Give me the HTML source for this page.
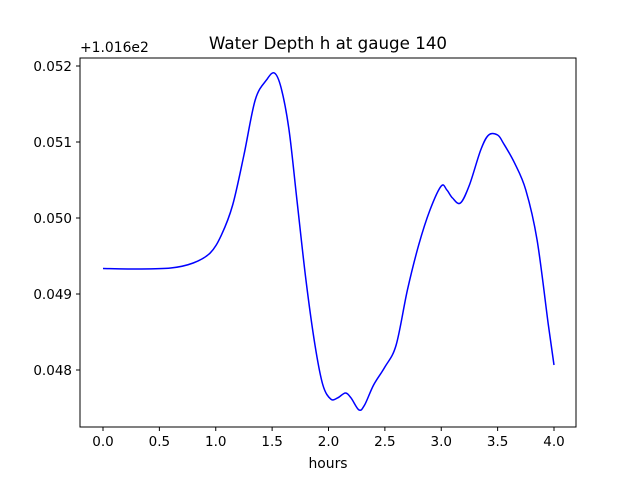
<!DOCTYPE html>
<html><head><meta charset="utf-8"><style>
body{margin:0;background:#fff;}
svg text{font-family:"DejaVu Sans","Liberation Sans",sans-serif;fill:#000;}
</style></head><body>
<svg id="chart" width="640" height="480">
<rect width="640" height="480" fill="#fff"/>
<text x="328" y="49" font-size="16.7" text-anchor="middle">Water Depth h at gauge 140</text>
<text x="80" y="52" font-size="13.9">+1.016e2</text>
<text x="328" y="468" font-size="13.9" text-anchor="middle">hours</text>
<g id="ticks"></g>
<g id="lines"></g>
<rect x="80" y="58" width="496" height="369" fill="none" stroke="#000" stroke-width="1"/>
</svg>
<script>
const hours=[0,0.3,0.6,0.8,0.95,1.05,1.15,1.25,1.35,1.45,1.52,1.58,1.65,1.72,1.8,1.88,1.95,2.02,2.08,2.15,2.2,2.27,2.32,2.4,2.5,2.6,2.7,2.8,2.9,3.0,3.05,3.1,3.17,3.25,3.35,3.42,3.5,3.55,3.65,3.75,3.85,3.95,4.0];
const depthOffset=[0.049336,0.049329,0.049342,0.049408,0.049539,0.049776,0.050171,0.050829,0.051553,0.051816,0.051908,0.051711,0.051158,0.050237,0.049184,0.048329,0.047803,0.047618,0.047632,0.047697,0.047632,0.047474,0.047539,0.047803,0.048039,0.048329,0.049053,0.049645,0.050105,0.050421,0.050368,0.050263,0.050197,0.050434,0.050895,0.051092,0.051092,0.050987,0.050724,0.050368,0.049711,0.048592,0.048066];
const xTicks=[0,0.5,1,1.5,2,2.5,3,3.5,4];
const xTickLabels=["0.0","0.5","1.0","1.5","2.0","2.5","3.0","3.5","4.0"];
const yTicks=[0.048,0.049,0.050,0.051,0.052];
const yTickLabels=["0.048","0.049","0.050","0.051","0.052"];
const NS="http://www.w3.org/2000/svg";
const xs=h=>103+h*112.75;
const ys=v=>370-(v-0.048)*76000;
const tg=document.getElementById('ticks');
function mk(tag,attrs,parent){const e=document.createElementNS(NS,tag);for(const k in attrs)e.setAttribute(k,attrs[k]);parent.appendChild(e);return e;}
xTicks.forEach((t,i)=>{
 const l=mk('line',{x1:xs(t),x2:xs(t),y1:427,y2:431,stroke:'#000'},tg);
 
 
 const tx=mk('text',{x:xs(t),y:446,'font-size':13.5,'text-anchor':'middle'},tg);
 tx.textContent=xTickLabels[i];
 
 
});
yTicks.forEach((t,i)=>{
 const l=mk('line',{x1:76,x2:80,y1:ys(t),y2:ys(t),stroke:'#000'},tg);
 
 
 const tx=mk('text',{x:72,y:ys(t)+5,'font-size':13.5,'text-anchor':'end'},tg);
 tx.textContent=yTickLabels[i];
 
 
});
const pts=hours.map((h,i)=>[xs(h),ys(depthOffset[i])]);
let d='M'+pts[0][0]+','+pts[0][1];
for(let i=0;i<pts.length-1;i++){
 const p0=pts[Math.max(0,i-1)],p1=pts[i],p2=pts[i+1],p3=pts[Math.min(pts.length-1,i+2)];
 const c1=[p1[0]+(p2[0]-p0[0])/6,p1[1]+(p2[1]-p0[1])/6];
 const c2=[p2[0]-(p3[0]-p1[0])/6,p2[1]-(p3[1]-p1[1])/6];
 d+=' C'+c1+' '+c2+' '+p2;
}
const path=mk('path',{d:d,fill:'none',stroke:'#0000ff','stroke-width':1.5},document.getElementById('lines'));


</script>
</body></html>
